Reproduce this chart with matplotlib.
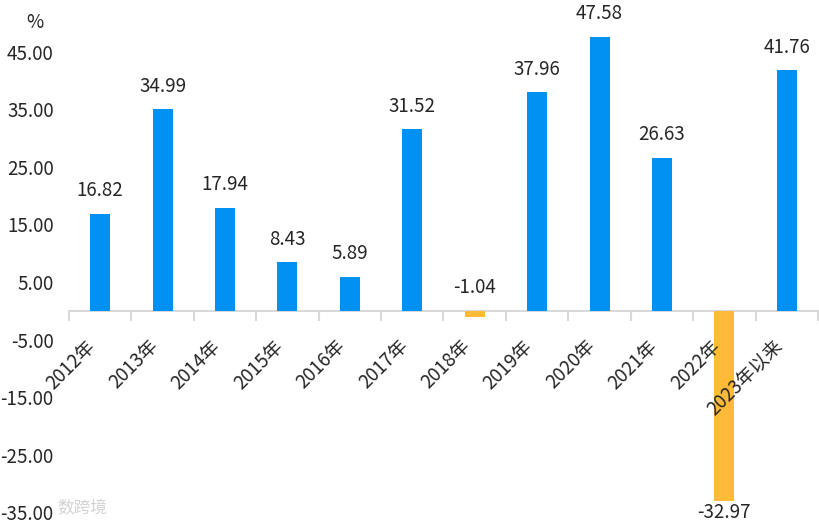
import matplotlib
matplotlib.use("Agg")
from matplotlib import pyplot as plt
import numpy as np

plt.rcParams['font.family'] = ['Noto Sans CJK SC', 'DejaVu Sans']

# ===================== Data =====================
years = ["2012年", "2013年", "2014年", "2015年", "2016年", "2017年",
         "2018年", "2019年", "2020年", "2021年", "2022年", "2023年以来"]
returns = [16.82, 34.99, 17.94, 8.43, 5.89, 31.52,
           -1.04, 37.96, 47.58, 26.63, -32.97, 41.76]
yticks = [45, 35, 25, 15, 5, -5, -15, -25, -35]

blue = "#0091F2"
orange = "#FFBB38"
grey = "#D9D9D9"

# ===================== Figure =====================
fig = plt.figure(figsize=(8.19, 5.24), dpi=100)
ax = fig.add_axes([69 / 819, 0.0225, 749 / 819, 0.9335])

x = np.arange(len(years))
colors = [blue if v >= 0 else orange for v in returns]
ax.bar(x, returns, width=0.32, color=colors, zorder=3)

# value labels
for xi, v in zip(x, returns):
    if v > -5:
        ax.annotate(f"{v:.2f}", (xi, max(v, 0)), xytext=(0, 9),
                    textcoords="offset points", ha="center", va="bottom",
                    fontsize=13.5, color="#262626")
    else:
        ax.annotate(f"{v:.2f}", (xi, v), xytext=(0, -1),
                    textcoords="offset points", ha="center", va="top",
                    fontsize=13.5, color="#262626")

ax.set_xlim(-0.5, len(years) - 0.5)
ax.set_ylim(-35, 50)

# y axis: labels only
ax.set_yticks(yticks)
ax.set_yticklabels([f"{t:.2f}" for t in yticks], fontsize=13.5, color="#262626")
ax.tick_params(axis="y", length=0, pad=11)

# x axis on the zero line, ticks between categories
ax.spines["bottom"].set_position(("data", 0))
ax.spines["bottom"].set_color(grey)
ax.spines["bottom"].set_linewidth(1.5)
for s in ["left", "right", "top"]:
    ax.spines[s].set_visible(False)

ax.set_xticks(x)
ax.set_xticklabels(years, rotation=45, ha="right", va="top",
                   fontsize=13.5, color="#262626")
ax.set_xticks(np.arange(-0.5, len(years) - 0.4, 1), minor=True)
ax.tick_params(axis="x", which="major", length=0, pad=18)
ax.tick_params(axis="x", which="minor", length=7, width=1.5, color=grey,
               direction="out")
ax.xaxis.set_zorder(4)

fig.text(35 / 819, 1 - 22 / 524, "%", ha="center", va="center",
         fontsize=13.5, color="#262626")
fig.text(57 / 819, 1 - 509 / 524, "数跨境", ha="left", va="center",
         fontsize=12, color="#c8c8c8", alpha=0.8)

plt.savefig("out.png", dpi=100)
plt.close()
